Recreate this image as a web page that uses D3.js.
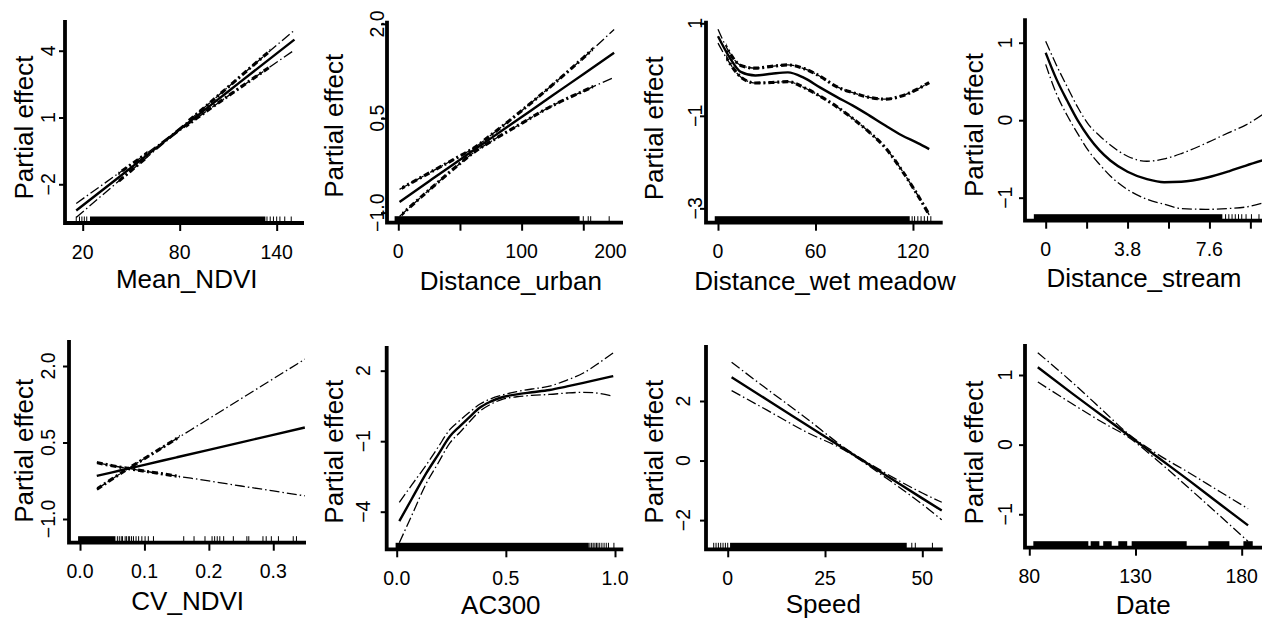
<!DOCTYPE html>
<html><head><meta charset="utf-8">
<script src="https://cdn.jsdelivr.net/npm/d3@7"></script>
<style>
body{margin:0;background:#fff}
svg{display:block}
text{font-family:"Liberation Sans",Arial,Helvetica,sans-serif;fill:#000}
</style>
</head><body>
<svg id="c" width="1262" height="621"></svg>
<script>
// ---------------- DATA ----------------
const xTitles = ["Mean_NDVI","Distance_urban","Distance_wet meadow","Distance_stream","CV_NDVI","AC300","Speed","Date"];
const yTitle = "Partial effect";

const xLimits = [[9.05,156.9],[-9.16,182.2],[-7.38,138.3],[-0.96,10.04],[-0.0171,0.3508],[-0.0458,1.038],[-5.58,55.24],[77.98,189.56]];
const yLimits = [[-3.74,5.38],[-1.16,2.05],[-3.31,1.056],[-1.297,1.315],[-1.465,2.51],[-5.6,3.05],[-2.98,3.88],[-1.48,1.445]];

const xTickValues = [[20,80,140],[0,50,100,150],[0,60,120],[0,1.9,3.8,5.7,7.6,9.5],[0,0.1,0.2,0.3],[0,0.5,1],[0,25,50],[80,130,180]];
const xTickLabels = [["20","80","140"],["0","100","200"],["0","60","120"],["0","3.8","7.6"],["0.0","0.1","0.2","0.3"],["0.0","0.5","1.0"],["0","25","50"],["80","130","180"]];
const xTickLabelAt = [[20,80,140],[0,100,172],[0,60,120],[0,3.8,7.6],[0,0.1,0.2,0.3],[0,0.5,1],[0,25,50],[80,130,180]];
const yTickValues = [[-2,1,4],[-1,0.5,2],[-3,-1,1],[-1,0,1],[-1,0.5,2],[-4,-1,2],[-2,0,2],[-1,0,1]];
const yTickLabels = [["−2","1","4"],["−1.0","0.5","2.0"],["−3","−1","1"],["−1","0","1"],["−1.0","0.5","2.0"],["−4","−1","2"],["−2","0","2"],["−1","0","1"]];

// Mean_NDVI
const ndviX     = [16, 40, 60, 75, 90, 110, 130, 151];
const ndviFit   = [-3.18, -1.82, -0.68, 0.18, 1.03, 2.17, 3.31, 4.50];
const ndviUpper = [-2.86, -1.62, -0.59, 0.23, 1.12, 2.37, 3.63, 4.92];
const ndviLower = [-3.49, -2.00, -0.77, 0.12, 0.94, 1.97, 2.98, 4.03];
const ndviRugDense = [[24.5, 133]];
const ndviRugSparse = [16, 18, 19.5, 21, 22.5, 134, 136, 138, 140, 142, 145, 149];

// Distance_urban
const urbX     = [1, 25, 50, 60, 75, 100, 125, 150, 175];
const urbFit   = [-0.83, -0.50, -0.16, -0.02, 0.18, 0.52, 0.86, 1.20, 1.54];
const urbUpper = [-0.63, -0.37, -0.10, 0.01, 0.23, 0.62, 1.03, 1.46, 1.91];
const urbLower = [-1.06, -0.64, -0.22, -0.06, 0.13, 0.42, 0.70, 0.93, 1.15];
const urbRugDense = [[-3, 147]];
const urbRugSparse = [150, 154, 156, 171];

// Distance_wet meadow
const wetX     = [0, 7, 14, 23, 33, 43, 53, 63, 73, 83, 93, 103, 113, 123, 130];
const wetFit   = [0.72, 0.27, -0.05, -0.13, -0.09, -0.06, -0.18, -0.39, -0.59, -0.78, -0.99, -1.21, -1.42, -1.59, -1.72];
const wetUpper = [0.87, 0.37, 0.09, 0.03, 0.07, 0.10, 0.02, -0.15, -0.37, -0.50, -0.60, -0.64, -0.57, -0.42, -0.28];
const wetLower = [0.57, 0.15, -0.16, -0.29, -0.28, -0.26, -0.39, -0.58, -0.80, -1.06, -1.35, -1.69, -2.17, -2.72, -3.14];
const wetRugDense = [[-2, 118]];
const wetRugSparse = [119.5, 121, 123, 125, 127, 129, 131];

// Distance_stream
const strX     = [0, 0.5, 1.0, 1.5, 2.0, 2.5, 3.0, 3.8, 4.7, 5.5, 6.3, 7.5, 8.5, 9.3, 10.05];
const strFit   = [0.87, 0.53, 0.25, -0.01, -0.22, -0.39, -0.52, -0.665, -0.76, -0.80, -0.795, -0.74, -0.66, -0.585, -0.52];
const strUpper = [1.02, 0.71, 0.43, 0.16, -0.06, -0.20, -0.32, -0.465, -0.53, -0.50, -0.43, -0.29, -0.16, -0.06, 0.07];
const strLower = [0.72, 0.34, 0.06, -0.18, -0.40, -0.57, -0.72, -0.895, -1.02, -1.085, -1.14, -1.15, -1.14, -1.12, -1.07];
const strRugDense = [[-0.55, 8.2]];
const strRugSparse = [8.35, 8.5, 8.65, 8.8, 8.95, 9.1, 9.3, 9.55, 9.9];

// CV_NDVI
const cvX     = [0.026, 0.05, 0.075, 0.1, 0.15, 0.2, 0.25, 0.3, 0.349];
const cvFit   = [-0.155, -0.085, -0.011, 0.062, 0.209, 0.356, 0.503, 0.650, 0.794];
const cvUpper = [-0.415, -0.215, -0.01, 0.185, 0.576, 0.966, 1.359, 1.75, 2.134];
const cvLower = [0.105, 0.045, -0.01, -0.061, -0.158, -0.254, -0.353, -0.45, -0.546];
const cvRugDense = [[-0.003, 0.055]];
const cvRugSparse = [0.058, 0.061, 0.064, 0.066, 0.070, 0.072, 0.075, 0.077, 0.080, 0.083, 0.087, 0.091, 0.096, 0.101, 0.106, 0.114,
                     0.161, 0.177, 0.194, 0.205, 0.209, 0.213, 0.217, 0.223, 0.238, 0.259, 0.262, 0.284, 0.289, 0.297, 0.308, 0.331, 0.336];

// AC300
const acX     = [0.012, 0.07, 0.137, 0.19, 0.244, 0.29, 0.336, 0.38, 0.427, 0.49, 0.55, 0.62, 0.70, 0.78, 0.855, 0.93, 0.992];
const acFit   = [-4.40, -3.44, -2.34, -1.57, -0.79, -0.36, 0.05, 0.42, 0.67, 0.89, 0.99, 1.08, 1.18, 1.33, 1.48, 1.64, 1.77];
const acUpper = [-3.60, -2.85, -1.99, -1.25, -0.50, -0.11, 0.25, 0.57, 0.79, 0.98, 1.11, 1.22, 1.34, 1.60, 1.90, 2.35, 2.76];
const acLower = [-5.32, -4.14, -2.77, -1.93, -1.07, -0.62, -0.15, 0.27, 0.55, 0.80, 0.89, 0.95, 0.99, 1.05, 1.08, 1.03, 0.91];
const acRugDense = [[-0.005, 0.88]];
const acRugSparse = [0.885, 0.893, 0.9, 0.908, 0.915, 0.922, 0.93, 0.94, 0.95, 0.96, 0.97, 0.995];

// Speed
const spdX     = [1, 10, 20, 30, 40, 50, 55];
const spdFit   = [2.80, 2.05, 1.22, 0.39, -0.44, -1.27, -1.68];
const spdUpper = [3.30, 2.41, 1.44, 0.43, -0.38, -1.09, -1.40];
const spdLower = [2.35, 1.70, 0.97, 0.35, -0.52, -1.47, -1.99];
const spdRugDense = [[0.6, 46]];
const spdRugSparse = [-3.6, -3.0, -2.4, -1.8, -1.2, -0.6, 0, 47.3, 48.2, 52.6];

// Date
const dateX     = [84, 100, 115, 126, 140, 155, 170, 183];
const dateFit   = [1.11, 0.74, 0.40, 0.15, -0.17, -0.51, -0.86, -1.16];
const dateUpper = [1.32, 0.90, 0.48, 0.17, -0.13, -0.40, -0.68, -0.92];
const dateLower = [0.90, 0.59, 0.31, 0.12, -0.22, -0.62, -1.03, -1.39];
const dateRugDense = [[81.9,107.8],[108.9,113],[114.8,118.8],[121.9,126.1],[128.2,154.1],[164.3,174.2],[180.8,185.2]];
const dateRugSparse = [];

// ---------------- LAYOUT / STYLE ----------------
const layout = [
  {left:65,    right:304,   top:20,   bottom:223,   ytGap:10, ytX:33,    ytY:127.5, xtX:186.7, xtY:288.3, xlDy:35.5},
  {left:387,   right:623,   top:20.7, bottom:222.7, ytGap:3,  ytX:343,   ytY:125.8, xtX:510.8, xtY:290,   xlDy:35.5},
  {left:706,   right:942.7, top:20.7, bottom:222.7, ytGap:4,  ytX:663.3, ytY:128.3, xtX:825,   xtY:290,   xlDy:35.5},
  {left:1025,  right:1262,  top:18.3, bottom:220.7, ytGap:13, ytX:983.3, ytY:125,   xtX:1144,  xtY:286.7, xlDy:35.5},
  {left:69,    right:306,   top:340,  bottom:542.7, ytGap:14, ytX:33,    ytY:450.8, xtX:187.7, xtY:610,   xlDy:35.5},
  {left:386.7, right:623.3, top:346,  bottom:549.3, ytGap:17, ytX:343,   ytY:451.7, xtX:500.8, xtY:614,   xlDy:35.6},
  {left:706,   right:942.7, top:345,  bottom:549.3, ytGap:16, ytX:663.3, ytY:451.7, xtX:823.3, xtY:613,   xlDy:35.7},
  {left:1025,  right:1262,  top:344,  bottom:547.7, ytGap:13, ytX:983.3, ytY:452.5, xtX:1143.3,xtY:613.5, xlDy:35.6}
];
const boldRanges = [[[42,60],[84,136]], [[3,158]], [[5,131]], [], [[0.026,0.155]], [], [], []];

const panels = [
  {x:ndviX, fit:ndviFit, upper:ndviUpper, lower:ndviLower, rugDense:ndviRugDense, rugSparse:ndviRugSparse},
  {x:urbX,  fit:urbFit,  upper:urbUpper,  lower:urbLower,  rugDense:urbRugDense,  rugSparse:urbRugSparse},
  {x:wetX,  fit:wetFit,  upper:wetUpper,  lower:wetLower,  rugDense:wetRugDense,  rugSparse:wetRugSparse},
  {x:strX,  fit:strFit,  upper:strUpper,  lower:strLower,  rugDense:strRugDense,  rugSparse:strRugSparse},
  {x:cvX,   fit:cvFit,   upper:cvUpper,   lower:cvLower,   rugDense:cvRugDense,   rugSparse:cvRugSparse},
  {x:acX,   fit:acFit,   upper:acUpper,   lower:acLower,   rugDense:acRugDense,   rugSparse:acRugSparse},
  {x:spdX,  fit:spdFit,  upper:spdUpper,  lower:spdLower,  rugDense:spdRugDense,  rugSparse:spdRugSparse},
  {x:dateX, fit:dateFit, upper:dateUpper, lower:dateLower, rugDense:dateRugDense, rugSparse:dateRugSparse}
];

// ---------------- DRAW ----------------
const svg = d3.select("#c");
const defs = svg.append("defs");

panels.forEach((p, i) => {
  const L = layout[i];
  const x = d3.scaleLinear().domain(xLimits[i]).range([L.left, L.right]);
  const y = d3.scaleLinear().domain(yLimits[i]).range([L.bottom, L.top]);
  const g = svg.append("g");

  const clipId = "clip" + i;
  defs.append("clipPath").attr("id", clipId).append("rect")
    .attr("x", L.left).attr("y", L.top - 2)
    .attr("width", L.right - L.left).attr("height", L.bottom - L.top + 2);

  // rug
  const rg = g.append("g");
  rg.selectAll("rect").data(p.rugDense).join("rect")
    .attr("x", d => x(d[0])).attr("width", d => x(d[1]) - x(d[0]))
    .attr("y", L.bottom - 6.5).attr("height", 6.5).attr("fill", "#000");
  rg.selectAll("line").data(p.rugSparse).join("line")
    .attr("x1", d => x(d)).attr("x2", d => x(d))
    .attr("y1", L.bottom - 6.5).attr("y2", L.bottom)
    .attr("stroke", "#000").attr("stroke-width", 1);

  // curves
  const line = d3.line().x(d => x(d[0])).y(d => y(d[1])).curve(d3.curveMonotoneX);
  const pts = arr => p.x.map((v, k) => [v, arr[k]]);
  const cg = g.append("g").attr("clip-path", `url(#${clipId})`);
  [p.upper, p.lower].forEach(arr => {
    cg.append("path").attr("d", line(pts(arr)))
      .attr("fill", "none").attr("stroke", "#000")
      .attr("stroke-width", 1.3).attr("stroke-dasharray", "10,3,1.5,3");
  });
  boldRanges[i].forEach((b, j) => {
    const id = `bclip${i}_${j}`;
    defs.append("clipPath").attr("id", id).append("rect")
      .attr("x", x(b[0])).attr("y", L.top).attr("width", x(b[1]) - x(b[0])).attr("height", L.bottom - L.top);
    const bg = g.append("g").attr("clip-path", `url(#${id})`);
    [p.upper, p.lower].forEach(arr => {
      bg.append("path").attr("d", line(pts(arr)))
        .attr("fill", "none").attr("stroke", "#000")
        .attr("stroke-width", 3.2).attr("stroke-dasharray", "6,3,2,3");
    });
  });
  cg.append("path").attr("d", line(pts(p.fit)))
    .attr("fill", "none").attr("stroke", "#000").attr("stroke-width", 2.4);

  // tick marks
  const xa = g.append("g").attr("transform", `translate(0,${L.bottom})`)
    .call(d3.axisBottom(x).tickValues(xTickValues[i]).tickSize(8).tickFormat(""));
  xa.select(".domain").remove();
  xa.selectAll("line").attr("stroke", "#000").attr("stroke-width", 2);
  const ya = g.append("g").attr("transform", `translate(${L.left},0)`)
    .call(d3.axisLeft(y).tickValues(yTickValues[i]).tickSize(6).tickFormat(""));
  ya.select(".domain").remove();
  ya.selectAll("line").attr("stroke", "#000").attr("stroke-width", 2);

  // L box
  g.append("path")
    .attr("d", `M${L.left},${L.top}V${L.bottom}H${L.right}`)
    .attr("fill", "none").attr("stroke", "#000").attr("stroke-width", 3.8)
    .attr("stroke-linejoin", "miter");

  // tick labels
  g.selectAll("text.xl").data(xTickLabelAt[i]).join("text").attr("class", "xl")
    .attr("x", d => x(d)).attr("y", L.bottom + L.xlDy)
    .attr("text-anchor", "middle").attr("font-size", 19.5)
    .text((d, k) => xTickLabels[i][k]);
  g.selectAll("text.yl").data(yTickValues[i]).join("text").attr("class", "yl")
    .attr("transform", d => `translate(${L.left - L.ytGap},${y(d)}) rotate(-90)`)
    .attr("text-anchor", "middle").attr("font-size", 19.5)
    .text((d, k) => yTickLabels[i][k]);

  // titles
  g.append("text").attr("x", L.xtX).attr("y", L.xtY)
    .attr("text-anchor", "middle").attr("font-size", 26).text(xTitles[i]);
  g.append("text").attr("transform", `translate(${L.ytX},${L.ytY}) rotate(-90)`)
    .attr("text-anchor", "middle").attr("font-size", 26).text(yTitle);
});
</script>
</body></html>
